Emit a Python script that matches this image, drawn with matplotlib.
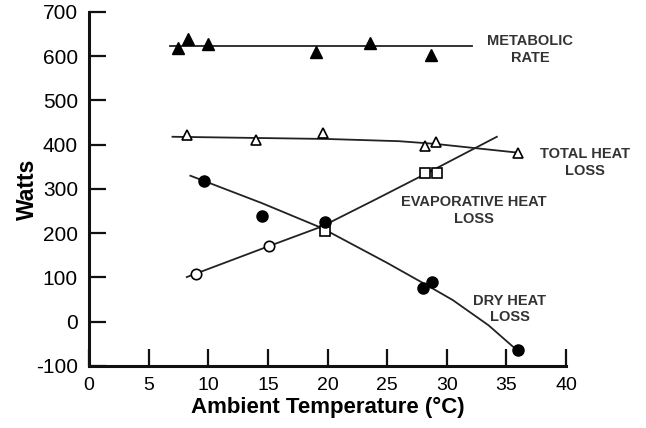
"""Heat balance vs ambient temperature (metabolic rate, total / evaporative / dry heat loss)."""
import matplotlib
matplotlib.use("Agg")
import matplotlib.pyplot as plt

plt.rcParams.update({
    "font.family": ["Liberation Sans", "DejaVu Sans"],
    "axes.spines.top": False,
    "axes.spines.right": False,
    "axes.unicode_minus": False,
})

# ---- measured points -------------------------------------------------
met_x = [7.5, 8.3, 10.0, 19.0, 23.6, 28.7]
met_y = [618, 638, 627, 609, 629, 602]

total_x = [8.2, 14.0, 19.6, 28.2, 29.1, 36.0]
total_y = [422, 411, 427, 398, 407, 382]

evap_circ_x = [9.0, 15.1]
evap_circ_y = [108, 171]
evap_sq_x = [19.8, 28.2, 29.2]
evap_sq_y = [204, 335, 337]

dry_x = [9.6, 14.5, 19.8, 28.0, 28.8, 36.0]
dry_y = [317, 240, 225, 76, 90, -65]

# ---- fitted curves ----------------------------------------------------
met_fit_x = [6.8, 32.1]
met_fit_y = [623, 623]

total_fit_x = [7.0, 20.0, 26.0, 29.0, 36.0]
total_fit_y = [418, 413, 408, 402, 382]

evap_fit_x = [8.2, 15.0, 19.5, 24.0, 28.5, 34.2]
evap_fit_y = [101, 170, 215, 276, 338, 418]

dry_fit_x = [8.5, 14.5, 19.5, 25.0, 28.5, 30.5, 33.5, 36.0]
dry_fit_y = [330, 268, 212, 133, 80, 49, -8, -67]

x_ticks = [0, 5, 10, 15, 20, 25, 30, 35, 40]
y_ticks = [-100, 0, 100, 200, 300, 400, 500, 600, 700]

LINE = "#222222"
TXT = "#333333"

fig = plt.figure(figsize=(6.46, 4.28), dpi=100)
ax = fig.add_axes([0.1378, 0.1449, 0.7384, 0.8271])

# fit lines
for fx, fy in ((met_fit_x, met_fit_y), (total_fit_x, total_fit_y),
               (evap_fit_x, evap_fit_y), (dry_fit_x, dry_fit_y)):
    ax.plot(fx, fy, color=LINE, lw=1.3, zorder=2)

# markers
ax.plot(met_x, met_y, "^", color="black", ms=8, zorder=3, clip_on=False)
ax.plot(total_x, total_y, "^", mfc="white", mec="black", mew=1.2, ms=7.5, zorder=3)
ax.plot(evap_circ_x, evap_circ_y, "o", mfc="white", mec="black", mew=1.2, ms=7.5, zorder=3)
ax.plot(evap_sq_x, evap_sq_y, "s", mfc="white", mec="black", mew=1.2, ms=7, zorder=3)
ax.plot(dry_x, dry_y, "o", color="black", ms=8, zorder=4, clip_on=False)

# curve labels
lab_kw = dict(ha="center", va="center", fontsize=10.5, fontweight="bold",
              color=TXT, linespacing=1.25)
ax.text(37.0, 616, "METABOLIC\nRATE", **lab_kw)
ax.text(41.6, 360, "TOTAL HEAT\nLOSS", **lab_kw)
ax.text(32.3, 251, "EVAPORATIVE HEAT\nLOSS", **lab_kw)
ax.text(35.3, 29, "DRY HEAT\nLOSS", **lab_kw)

ax.set_xlim(0, 40)
ax.set_ylim(-100, 700)
ax.set_xticks(x_ticks)
ax.set_yticks(y_ticks)
ax.tick_params(direction="in", length=12, width=1.6, color="#111111", pad=8)
ax.tick_params(axis="x", labelsize=14)
ax.tick_params(axis="y", labelsize=15)
for sp in ("left", "bottom"):
    ax.spines[sp].set_linewidth(2.2)
    ax.spines[sp].set_color("#111111")

ax.set_xlabel("Ambient Temperature (\u00b0C)", fontsize=16, fontweight="bold", labelpad=2)
ax.set_ylabel("Watts", fontsize=16.5, fontweight="bold", labelpad=-2)

fig.savefig("out.png", dpi=100)
